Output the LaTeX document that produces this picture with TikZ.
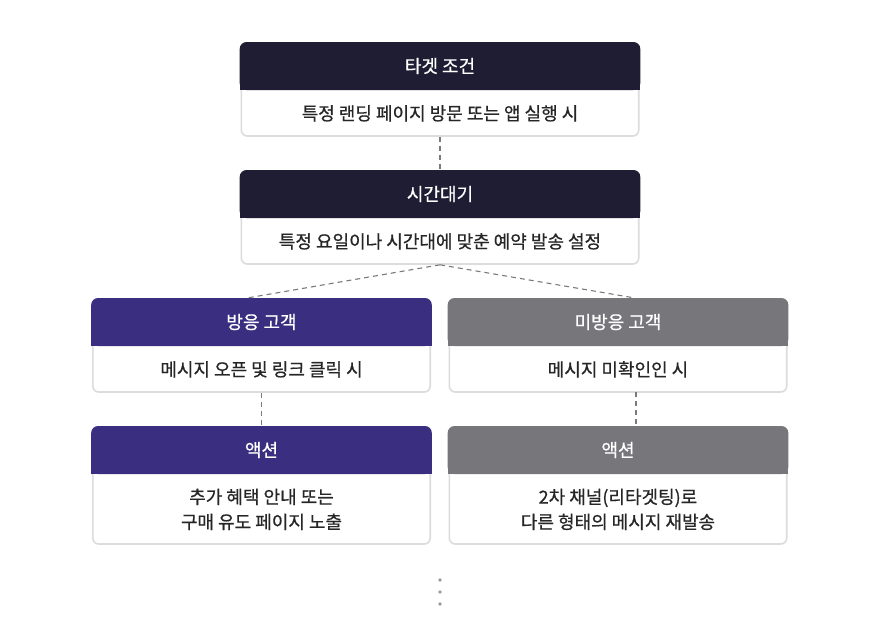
\documentclass[tikz,border=0pt]{standalone}
\usepackage{fontspec}
\newfontfamily\kr{Noto Sans CJK KR}
\newfontfamily\krm[FakeBold=0.6]{Noto Sans CJK KR}
\usetikzlibrary{calc}
\definecolor{navy}{HTML}{1E1D33}
\definecolor{purp}{HTML}{3A2E80}
\definecolor{greyh}{HTML}{76767B}
\definecolor{bordc}{HTML}{DCDCDC}
\definecolor{txt}{HTML}{262626}
\definecolor{dashc}{HTML}{7A7A7A}
\definecolor{dotc}{HTML}{9A9A9A}
\tikzset{
  boxnode/.style={draw=bordc, line width=1.6pt, fill=white, rounded corners=6pt, inner sep=0pt},
  headtext/.style={text=white, font=\krm\fontsize{18}{20}\selectfont, inner sep=0pt},
  bodytext/.style={text=txt, font=\krm\fontsize{18}{25}\selectfont, align=center, inner sep=0pt},
  conn/.style={draw=dashc, line width=1.1pt, dash pattern=on 5pt off 4pt},
  dotnode/.style={circle, fill=dotc, inner sep=0pt, minimum size=3.6pt},
}
\newcommand\mkbox[8]{%
  \node[boxnode, minimum width=#4 pt, minimum height=#5 pt, anchor=north] (#1) at (#2,-#3) {};
  \fill[#6, rounded corners=6.8pt] ([shift={(-0.8pt,0.8pt)}]#1.north west) rectangle ([shift={(0.8pt,-47.2pt)}]#1.north east);
  \fill[#6] ([shift={(-0.8pt,-24pt)}]#1.north west) rectangle ([shift={(0.8pt,-47.2pt)}]#1.north east);
  \node[headtext] (#1h) at ([yshift=-23.2pt]#1.north) {#7};
  \node[bodytext] (#1b) at ($(#1.south)!0.5!([yshift=-47.2pt]#1.north)$) {#8};
}
\begin{document}
\begin{tikzpicture}[x=1pt,y=1pt]
\useasboundingbox (0,0) rectangle (880,-640);
\fill[white] (0,0) rectangle (880,-640);
\mkbox{ba}{440}{42.8}{397.4}{92.4}{navy}{타겟 조건}{특정 랜딩 페이지 방문 또는 앱 실행 시}
\mkbox{bb}{440}{170.8}{397.4}{92.4}{navy}{시간대기}{특정 요일이나 시간대에 맞춘 예약 발송 설정}
\mkbox{bl}{261.5}{298.8}{337.4}{92.4}{purp}{방응 고객}{메시지 오픈 및 링크 클릭 시}
\mkbox{br}{618}{298.8}{337.4}{92.4}{greyh}{미방응 고객}{메시지 미확인인 시}
\mkbox{al}{261.5}{426.8}{337.4}{116.4}{purp}{액션}{추가 혜택 안내 또는\\구매 유도 페이지 노출}
\mkbox{ar}{618}{426.8}{337.4}{116.4}{greyh}{액션}{2차 채널(리타겟팅)로\\다른 형태의 메시지 재발송}
\coordinate (blin) at (247,-298);
\coordinate (brin) at (635,-298);
\coordinate (rvtop) at (636,-392);
\coordinate (rvbot) at (636,-426);
\draw[conn] (ba.south) -- (bb.north);
\draw[conn] (bb.south) -- (blin);
\draw[conn] (bb.south) -- (brin);
\draw[conn] (bl.south) -- (al.north);
\draw[conn] (rvtop) -- (rvbot);
\node[dotnode] (d1) at (440,-580) {};
\node[dotnode] (d2) at (440,-592) {};
\node[dotnode] (d3) at (440,-604) {};
\end{tikzpicture}
\end{document}
